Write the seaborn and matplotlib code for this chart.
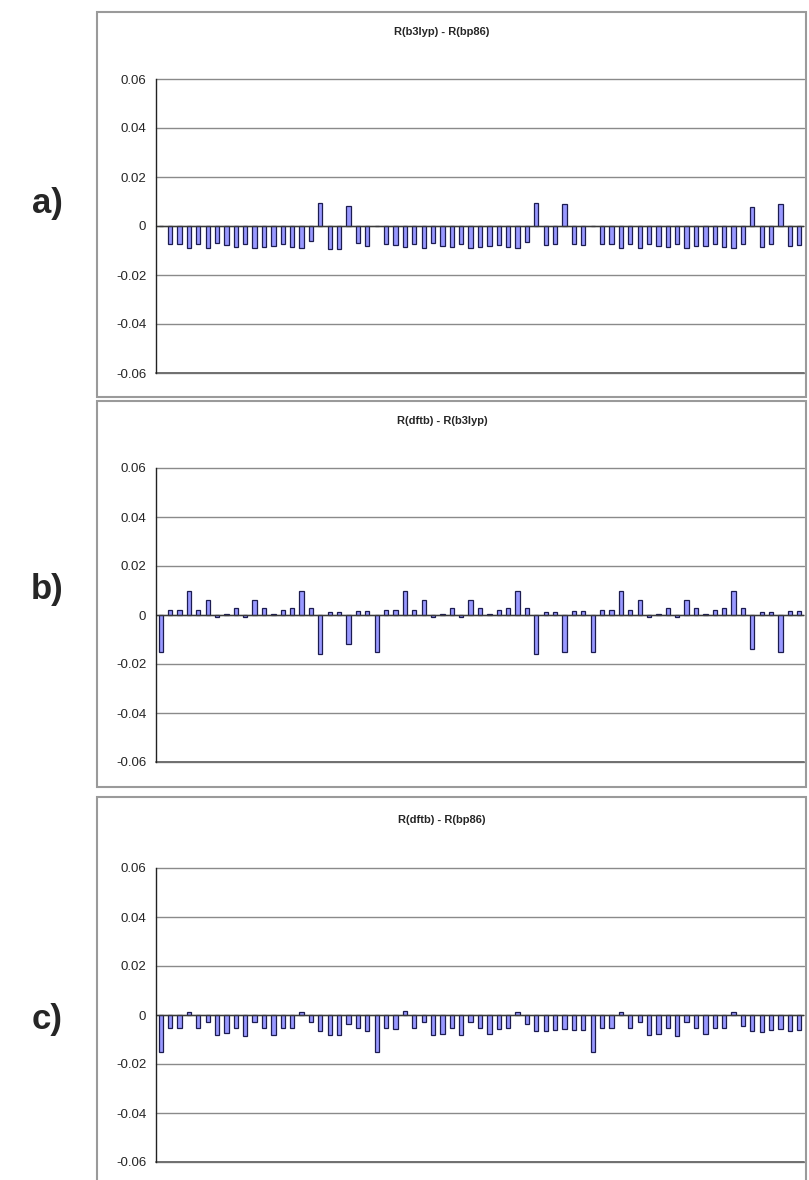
import matplotlib
matplotlib.use("Agg")
import matplotlib.pyplot as plt
from matplotlib.patches import Rectangle
import seaborn as sns
import pandas as pd

# differences of R factors, 69 structures per panel
r_b3lyp_bp86 = [
    0.0, -0.0075, -0.0075, -0.0088, -0.0075, -0.009, -0.007, -0.0078, -0.0085, -0.0075, -0.009, -0.0085,
    -0.0083, -0.0075, -0.0085, -0.0088, -0.006, 0.0095, -0.0094, -0.0094, 0.0083, -0.007, -0.008,
    0.0, -0.0075, -0.0078, -0.0085, -0.0075, -0.0088, -0.007, -0.008, -0.0085, -0.0072, -0.0088, -0.0085,
    -0.008, -0.0078, -0.0085, -0.0088, -0.0065, 0.0094, -0.0078, -0.0074, 0.0091, -0.0075, -0.0078,
    0.0, -0.0075, -0.0075, -0.0088, -0.0075, -0.009, -0.0072, -0.008, -0.0085, -0.0075, -0.009, -0.0082,
    -0.008, -0.0075, -0.0085, -0.0088, -0.0075, 0.0076, -0.0085, -0.0075, 0.0091, -0.0082, -0.0078,
]
r_dftb_b3lyp = [
    -0.015, 0.002, 0.002, 0.010, 0.002, 0.006, -0.001, 0.0003, 0.003, -0.001, 0.006, 0.003,
    0.0003, 0.002, 0.003, 0.010, 0.003, -0.016, 0.0014, 0.0014, -0.012, 0.0015, 0.0015,
    -0.015, 0.002, 0.002, 0.010, 0.002, 0.006, -0.001, 0.0003, 0.003, -0.001, 0.006, 0.003,
    0.0003, 0.002, 0.003, 0.010, 0.003, -0.016, 0.0014, 0.0014, -0.015, 0.0015, 0.0015,
    -0.015, 0.002, 0.002, 0.010, 0.002, 0.006, -0.001, 0.0003, 0.003, -0.001, 0.006, 0.003,
    0.0003, 0.002, 0.003, 0.010, 0.003, -0.014, 0.0014, 0.0014, -0.015, 0.0015, 0.0015,
]
r_dftb_bp86 = [
    -0.015, -0.0055, -0.0055, 0.0012, -0.0055, -0.003, -0.008, -0.0075, -0.0055, -0.0085, -0.003, -0.0055,
    -0.008, -0.0055, -0.0055, 0.0012, -0.003, -0.0065, -0.008, -0.008, -0.0037, -0.0055, -0.0065,
    -0.015, -0.0055, -0.0058, 0.0015, -0.0055, -0.0028, -0.008, -0.0077, -0.0055, -0.0082, -0.0028, -0.0055,
    -0.0077, -0.0058, -0.0055, 0.0012, -0.0035, -0.0066, -0.0064, -0.006, -0.0059, -0.006, -0.0063,
    -0.015, -0.0055, -0.0055, 0.0012, -0.0055, -0.003, -0.0082, -0.0077, -0.0055, -0.0085, -0.003, -0.0052,
    -0.0077, -0.0055, -0.0055, 0.0012, -0.0045, -0.0064, -0.0071, -0.0061, -0.0059, -0.0067, -0.0063,
]
titles = ["R(b3lyp) - R(bp86)", "R(dftb) - R(b3lyp)", "R(dftb) - R(bp86)"]
letters = ["a)", "b)", "c)"]
yticks = [-0.06, -0.04, -0.02, 0, 0.02, 0.04, 0.06]
ytick_labels = ["-0.06", "-0.04", "-0.02", "0", "0.02", "0.04", "0.06"]

sns.set_style("white")
plt.rcParams["font.family"] = ["Liberation Sans", "DejaVu Sans"]

W, H = 809, 1180
fig = plt.figure(figsize=(W / 100, H / 100), dpi=100)

# pixel layout: (box top, box bottom, plot top, plot bottom, title y, letter y)
panels = [
    (12, 397, 79, 373, 32, 203),
    (401, 787, 468, 762, 421, 590),
    (797, 1190, 868, 1162, 820, 1020),
]
series = [r_b3lyp_bp86, r_dftb_b3lyp, r_dftb_bp86]

for k, (btop, bbot, ptop, pbot, ty, ly) in enumerate(panels):
    fig.add_artist(Rectangle((97 / W, 1 - bbot / H), (806 - 97) / W, (bbot - btop) / H,
                             transform=fig.transFigure, fill=False,
                             edgecolor="#9a9a9a", linewidth=1.5))
    ax = fig.add_axes([156 / W, 1 - pbot / H, (804 - 156) / W, (pbot - ptop) / H])
    df = pd.DataFrame({"idx": range(len(series[k])), "val": series[k]})
    sns.barplot(data=df, x="idx", y="val", ax=ax, color="#9999ff", saturation=1,
                edgecolor="#1c1c50", linewidth=0.9, width=0.45)
    ax.set_xlim(-0.5, len(series[k]) - 0.5)
    ax.set_ylim(-0.06, 0.06)
    ax.set_yticks(yticks)
    ax.set_yticklabels(ytick_labels, fontsize=9.5)
    ax.set_xticks([])
    ax.set_xlabel("")
    ax.set_ylabel("")
    ax.yaxis.grid(True, color="#8a8a8a", linewidth=1.0)
    for gl in ax.get_ygridlines():
        gl.set_clip_on(False)
    ax.set_axisbelow(True)
    ax.axhline(0, color="#3a3a3a", linewidth=1.0, zorder=1)
    ax.axhline(-0.06, color="#707070", linewidth=1.4, zorder=1, clip_on=False)
    for s in ["top", "right", "bottom"]:
        ax.spines[s].set_visible(False)
    ax.spines["left"].set_color("#222222")
    ax.spines["left"].set_linewidth(1.0)
    ax.tick_params(axis="y", direction="out", length=4, width=0.8, color="#222222", pad=3)
    fig.text(442 / W, 1 - ty / H, titles[k], ha="center", va="center",
             fontsize=8, fontweight="bold")
    fig.text(47 / W, 1 - ly / H, letters[k], ha="center", va="center",
             fontsize=25, fontweight="bold")

fig.savefig("out.png", dpi=100)
